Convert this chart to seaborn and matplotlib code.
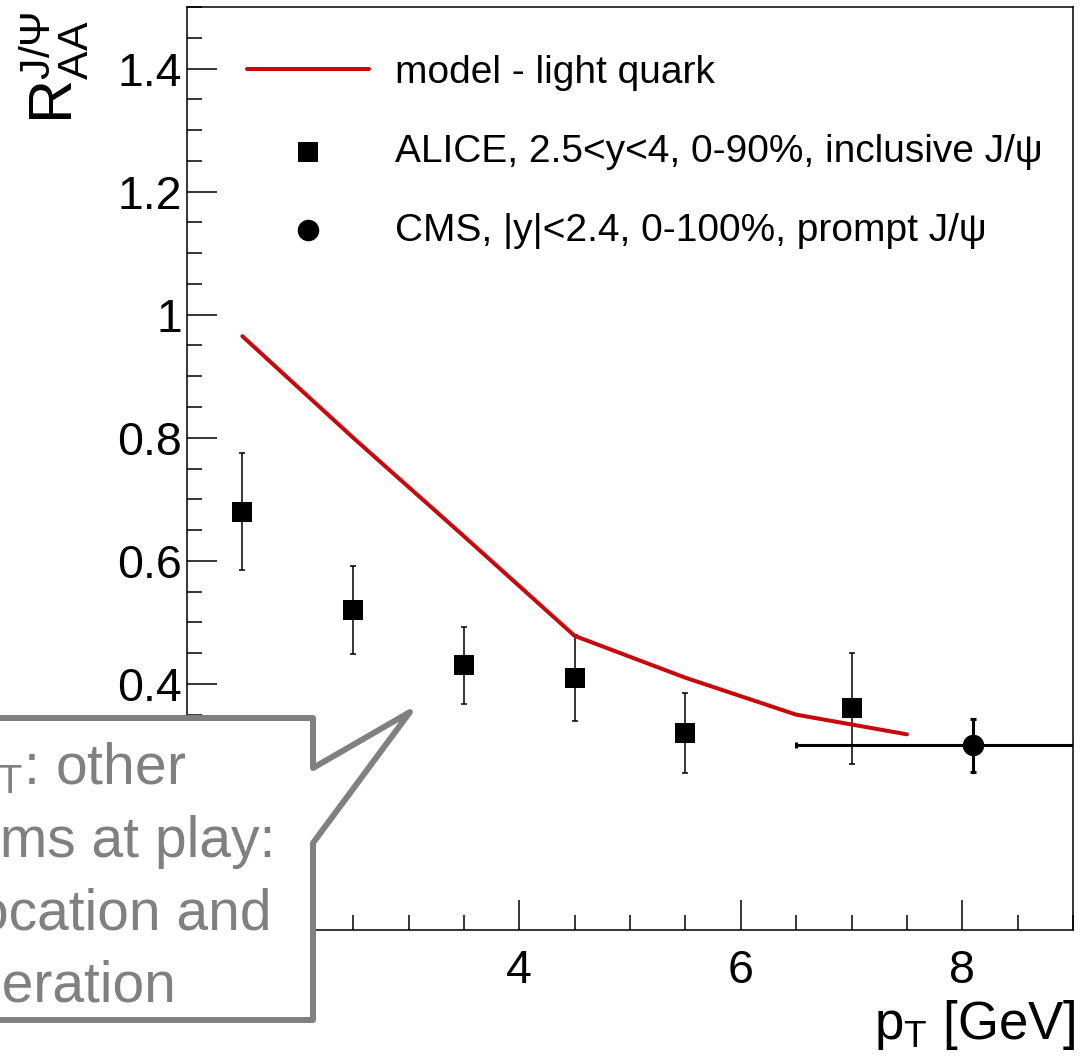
import numpy as np
import matplotlib
matplotlib.use("Agg")
import matplotlib.pyplot as plt
from matplotlib.patches import Polygon
from matplotlib.ticker import MultipleLocator, FuncFormatter
import seaborn as sns

# ---- data -------------------------------------------------------------
model_pt = [1.5, 2.5, 3.5, 4.5, 5.5, 6.5, 7.5]
model_raa = [0.965, 0.80, 0.64, 0.478, 0.41, 0.35, 0.318]

alice_pt = [1.5, 2.5, 3.5, 4.5, 5.5, 7.0]
alice_raa = [0.68, 0.52, 0.43, 0.41, 0.32, 0.36]
alice_err = [0.095, 0.072, 0.063, 0.070, 0.065, 0.090]

cms_pt = [8.1]
cms_raa = [0.30]
cms_err = [0.043]
cms_pt_lo = [6.5]
cms_pt_hi = [30.0]

label_model = "model - light quark"
label_alice = "ALICE, 2.5<y<4, 0-90%, inclusive J/ψ"
label_cms = "CMS, |y|<2.4, 0-100%, prompt J/ψ"

note_lines = ["Low p$_\\mathrm{T}$: other", "mechanisms at play:",
              "J/ψ dissocation and", "regeneration"]

# ---- style ------------------------------------------------------------
sns.set_theme(style="white")
plt.rcParams["font.family"] = ["Liberation Sans", "DejaVu Sans"]
plt.rcParams["text.color"] = "black"
plt.rcParams["mathtext.fontset"] = "custom"
plt.rcParams["mathtext.rm"] = "Liberation Sans"
plt.rcParams["mathtext.it"] = "Liberation Sans:italic"
plt.rcParams["mathtext.bf"] = "Liberation Sans:bold"

W, H = 1081, 1058
fig = plt.figure(figsize=(W / 100, H / 100), dpi=100)


def fx(x):
    return x / W


def fy(y):
    return 1 - y / H


ax_l, ax_r, ax_t, ax_b = 187, 1073, 7, 930
ax = fig.add_axes([fx(ax_l), fy(ax_b), (ax_r - ax_l) / W, (ax_b - ax_t) / H])

red = "#c8080c"

# error bars
ax.errorbar(alice_pt, alice_raa, yerr=alice_err, fmt="none", ecolor="black",
            elinewidth=1.1, capsize=2.5, capthick=1.1, zorder=2)
xerr = [[c - lo for c, lo in zip(cms_pt, cms_pt_lo)],
        [hi - c for c, hi in zip(cms_pt, cms_pt_hi)]]
ax.errorbar(cms_pt, cms_raa, yerr=cms_err, xerr=xerr, fmt="none",
            ecolor="black", elinewidth=2.2, capsize=2.5, capthick=2.2, zorder=2)

# model curve and data markers
sns.lineplot(x=model_pt, y=model_raa, ax=ax, color=red, linewidth=2.9,
             label=label_model, zorder=3)
sns.scatterplot(x=alice_pt, y=alice_raa, ax=ax, marker="s", s=225,
                color="black", linewidth=0, label=label_alice, zorder=4)
sns.scatterplot(x=cms_pt, y=cms_raa, ax=ax, marker="o", s=240,
                color="black", linewidth=0, label=label_cms, zorder=4)

ax.set_xlim(1, 9)
ax.set_ylim(0, 1.5)
ax.set_xlabel("")
ax.set_ylabel("")

ax.xaxis.set_major_locator(MultipleLocator(2))
ax.xaxis.set_minor_locator(MultipleLocator(0.5))
ax.yaxis.set_major_locator(MultipleLocator(0.2))
ax.yaxis.set_minor_locator(MultipleLocator(0.05))
ax.yaxis.set_major_formatter(FuncFormatter(lambda v, p: f"{v:g}"))
ax.xaxis.set_major_formatter(FuncFormatter(lambda v, p: f"{v:g}"))

ax.tick_params(axis="both", which="both", direction="in", color="black",
               bottom=True, left=True, top=False, right=False)
ax.tick_params(axis="both", which="major", length=21.5, width=1.1,
               labelsize=33.5, labelcolor="black")
ax.tick_params(axis="both", which="minor", length=10.8, width=1.1)
ax.tick_params(axis="y", which="major", pad=3.5)
ax.tick_params(axis="x", which="major", pad=14)

for sp in ax.spines.values():
    sp.set_color("black")
    sp.set_linewidth(1.1)

leg = ax.legend(loc="upper left", bbox_to_anchor=(fx(247), fy(55)),
                bbox_transform=fig.transFigure, frameon=False, fontsize=28,
                handlelength=3.14, handletextpad=0.66, labelspacing=1.1,
                borderpad=0, borderaxespad=0, markerscale=1.0, scatterpoints=1,
                labelcolor="black")

# axis titles
fig.text(fx(1076), fy(1039), "p$_\\mathrm{T}$ [GeV]", ha="right",
         va="baseline", fontsize=38, color="black")
fig.text(fx(17), fy(11), "$\\mathrm{R}_{\\mathrm{AA}}^{\\mathrm{J/\\Psi}}$",
         rotation=90, ha="left", va="top", fontsize=44, color="black")

# callout box
grey = "#808080"
verts = [(-30, 718), (313, 718), (313, 768), (410, 712), (313, 843),
         (313, 1020), (-30, 1020)]
callout = Polygon([(fx(x), fy(y)) for x, y in verts], closed=True,
                  transform=fig.transFigure, facecolor="white",
                  edgecolor=grey, linewidth=4.3, joinstyle="round", zorder=10)
fig.add_artist(callout)

for line, xc, yb in zip(note_lines, [16, 16, 23, 16], [784, 857, 930, 1002]):
    fig.text(fx(xc), fy(yb), line, ha="center", va="baseline", fontsize=41,
             color=grey, zorder=11)

fig.savefig("out.png", dpi=100)
